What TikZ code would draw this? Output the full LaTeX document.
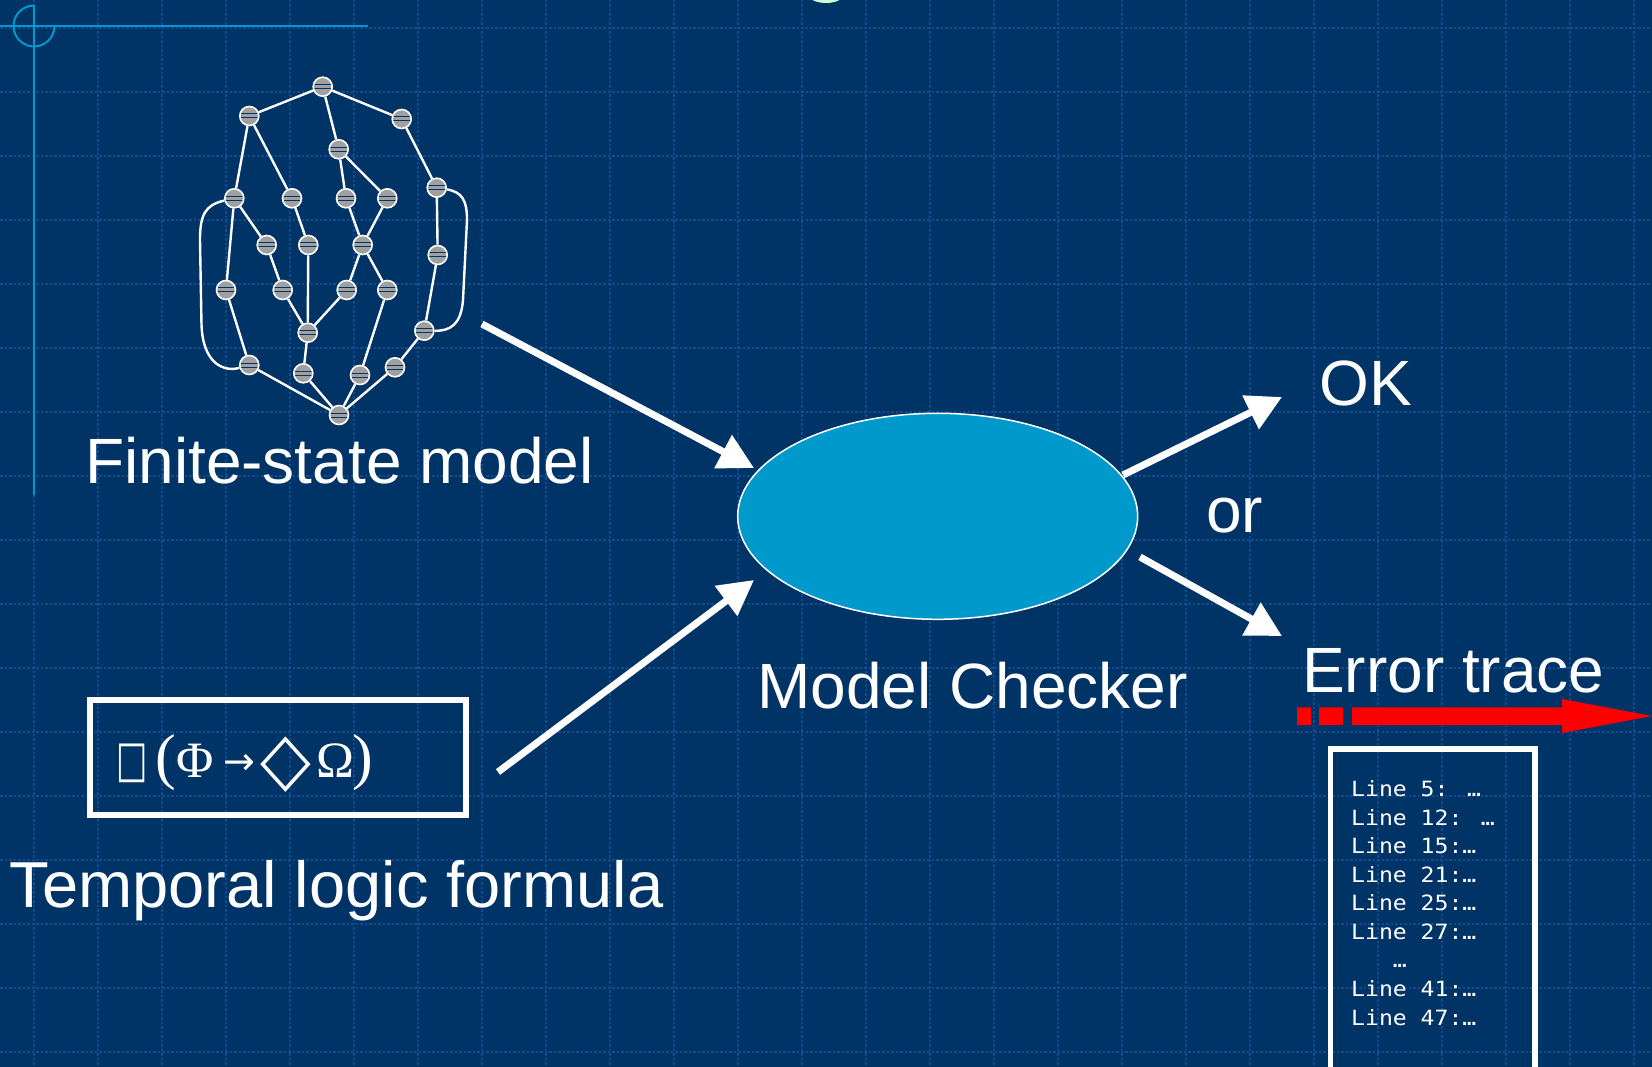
\documentclass[tikz,border=0pt]{standalone}
\usepackage{fontspec}
\usepackage{graphicx}
\setmainfont{Liberation Sans}
\newfontfamily\serifglyphs{Liberation Serif}
\newfontfamily\dejavu{DejaVu Sans}
\newfontfamily\monotext[FakeStretch=1.1]{DejaVu Sans Mono}
\usetikzlibrary{arrows.meta,shapes.geometric}
\definecolor{bgblue}{RGB}{0,51,102}
\definecolor{gridblue}{RGB}{18,76,144}
\definecolor{cyanline}{RGB}{0,153,204}
\definecolor{ellfill}{RGB}{0,153,204}
\definecolor{nodegray}{RGB}{160,160,160}
\definecolor{paleg}{RGB}{204,255,204}
\newcommand\parenf{\serifglyphs\fontsize{62}{62}\selectfont}
\newcommand\greekf{\serifglyphs\fontsize{51}{51}\selectfont}
\newcommand\sqglyph{\raisebox{1pt}{\scalebox{0.72}[1.1]{\dejavu\fontsize{46}{46}\selectfont □}}}
\newcommand\arrowg{\raisebox{3pt}{\dejavu\fontsize{38}{38}\selectfont →}}
\newcommand\diamg{\raisebox{-6pt}{\scalebox{1}[1.1]{\dejavu\fontsize{66}{66}\selectfont ◇}}}
\begin{document}
\begin{tikzpicture}[x=1pt,y=-1pt,
  statenode/.style={circle, draw=white, line width=1.6pt, fill=nodegray,
    minimum size=19pt, inner sep=0pt,
    path picture={
      \draw[bgblue, line width=1pt] ([xshift=-10pt,yshift=2pt]path picture bounding box.center) -- ([xshift=10pt,yshift=2pt]path picture bounding box.center);
      \draw[bgblue, line width=1pt] ([xshift=-10pt,yshift=-2pt]path picture bounding box.center) -- ([xshift=10pt,yshift=-2pt]path picture bounding box.center);}},
  trans/.style={white, line width=2.4pt},
  bigarrow/.style={white, line width=7pt, -{Triangle[length=35pt,width=36pt]}},
  caption/.style={text=white, font=\fontsize{64}{64}\selectfont, anchor=base west, inner sep=0pt},
  gridline/.style={gridblue, line width=1.1pt, dash pattern=on 2.5pt off 2pt},
  cyanstroke/.style={cyanline, line width=2pt},
  traceline/.style={text=white, font=\monotext\fontsize{21}{21}\selectfont, anchor=base west, inner sep=0pt},
]
\useasboundingbox (0,0) rectangle (1652,1067);
\clip (0,0) rectangle (1652,1067);
\fill[bgblue] (0,0) rectangle (1652,1067);
% grid
\foreach \i in {0,...,25} \draw[gridline] (34+64*\i,0) -- (34+64*\i,1067);
\foreach \j in {0,...,16} \draw[gridline] (0,28+64*\j) -- (1652,28+64*\j);
% corner mark
\draw[cyanstroke] (0,26) -- (368,26);
\draw[cyanstroke] (34,5) -- (34,495);
\draw[cyanstroke] (54.5,26) arc[start angle=0, end angle=270, radius=20.5];
% pale green sliver at top
\fill[paleg] (826,-6) ellipse[x radius=18, y radius=9];

% finite-state model graph
\node[statenode] (g1) at (322.7,86.7) {};
\node[statenode] (g2) at (249.3,116) {};
\node[statenode] (g3) at (401.7,119) {};
\node[statenode] (g4) at (338.7,149.3) {};
\node[statenode] (g5) at (234.3,198.3) {};
\node[statenode] (g6) at (292,198.3) {};
\node[statenode] (g7) at (346,198.3) {};
\node[statenode] (g8) at (387.3,198.3) {};
\node[statenode] (g9) at (436.7,187.7) {};
\node[statenode] (g10) at (266.7,245) {};
\node[statenode] (g11) at (308.3,245) {};
\node[statenode] (g12) at (362.7,245) {};
\node[statenode] (g13) at (437.7,255) {};
\node[statenode] (g14) at (226,290) {};
\node[statenode] (g15) at (282.7,290) {};
\node[statenode] (g16) at (346.7,290) {};
\node[statenode] (g17) at (387.3,290) {};
\node[statenode] (g18) at (307.7,332.7) {};
\node[statenode] (g19) at (424.3,330.7) {};
\node[statenode] (g20) at (249.3,365) {};
\node[statenode] (g21) at (303.3,373.3) {};
\node[statenode] (g22) at (360,375) {};
\node[statenode] (g23) at (395,367.3) {};
\node[statenode] (g24) at (339,415) {};
\foreach \a/\b in {g1/g2,g1/g3,g1/g4,g2/g5,g2/g6,g3/g9,g4/g7,g4/g8,g5/g10,g5/g14,
  g6/g11,g7/g12,g8/g12,g9/g13,g10/g15,g11/g18,g12/g16,g12/g17,g13/g19,g14/g20,
  g15/g18,g16/g18,g17/g22,g18/g21,g19/g23,g20/g24,g21/g24,g22/g24,g23/g24}
  \draw[trans] (\a) -- (\b);
\draw[trans] (g5) .. controls (205,205) and (200,215) .. (200,240) -- (201.5,325) .. controls (203,365) and (225,372) .. (g20);
\draw[trans] (g9) .. controls (462,192) and (467,200) .. (467,220) -- (463,300) .. controls (461,325) and (450,331) .. (g19);

% model checker
\node[ellipse, draw=white, line width=1.5pt, fill=ellfill, minimum width=400pt, minimum height=206pt, inner sep=0pt] (mc) at (937.7,516.3) {};

% labels
\node[caption] (fsm) at (85,483) {Finite-state model};
\node[caption] (mct) at (757,708) {Model Checker};
\node[caption, font=\fontsize{65}{65}\selectfont] (tlf) at (9.5,907) {Temporal logic formula};
\node[caption] (ok) at (1319,405) {OK};
\node[caption] (or) at (1206,532) {or};
\node[caption] (et) at (1302,692) {Error trace};

% formula box
\node[draw=white, line width=6pt, minimum width=376pt, minimum height=115pt, inner sep=0pt] (fbox) at (278,757.5) {};
\node[anchor=base west, inner sep=0pt, text=white] (formula) at (116,777)
  {\rlap{\sqglyph}\hspace*{39pt}\rlap{\parenf(}\hspace*{21pt}\rlap{\greekf Φ}\hspace*{47pt}\rlap{\arrowg}\hspace*{37pt}\rlap{\diamg}\hspace*{56pt}\rlap{\greekf Ω}\hspace*{36pt}{\parenf)}};

% arrows
\coordinate (a1s) at (482,324); \coordinate (a1e) at (754,468);
\coordinate (a2s) at (498,772); \coordinate (a2e) at (754,580);
\coordinate (a3s) at (1123,475); \coordinate (a3e) at (1282,397);
\coordinate (a4s) at (1140,557); \coordinate (a4e) at (1282,636);
\draw[bigarrow] (a1s) -- (a1e);
\draw[bigarrow] (a2s) -- (a2e);
\draw[bigarrow] (a3s) -- (a3e);
\draw[bigarrow] (a4s) -- (a4e);

% red trace arrow
\fill[red] (1297,707.3) rectangle (1311,725)
           (1319,707.3) rectangle (1343,725)
           (1352,707.3) -- (1562,707.3) -- (1562,699) -- (1652,716) -- (1562,733) -- (1562,725) -- (1352,725) -- cycle;

% error trace box
\node[draw=white, line width=5.6pt, minimum width=204.5pt, minimum height=341pt, inner sep=0pt] (trace) at (1432.75,919.2) {};
\foreach \t [count=\k from 0] in {Line 5: …,Line 12: …,Line 15:…,Line 21:…,Line 25:…,Line 27:…,{\mbox{\ \ \ }…},Line 41:…,Line 47:…}
  \node[traceline] (tl\k) at (1351,796.7+28.54*\k) {\t};
\end{tikzpicture}
\end{document}
